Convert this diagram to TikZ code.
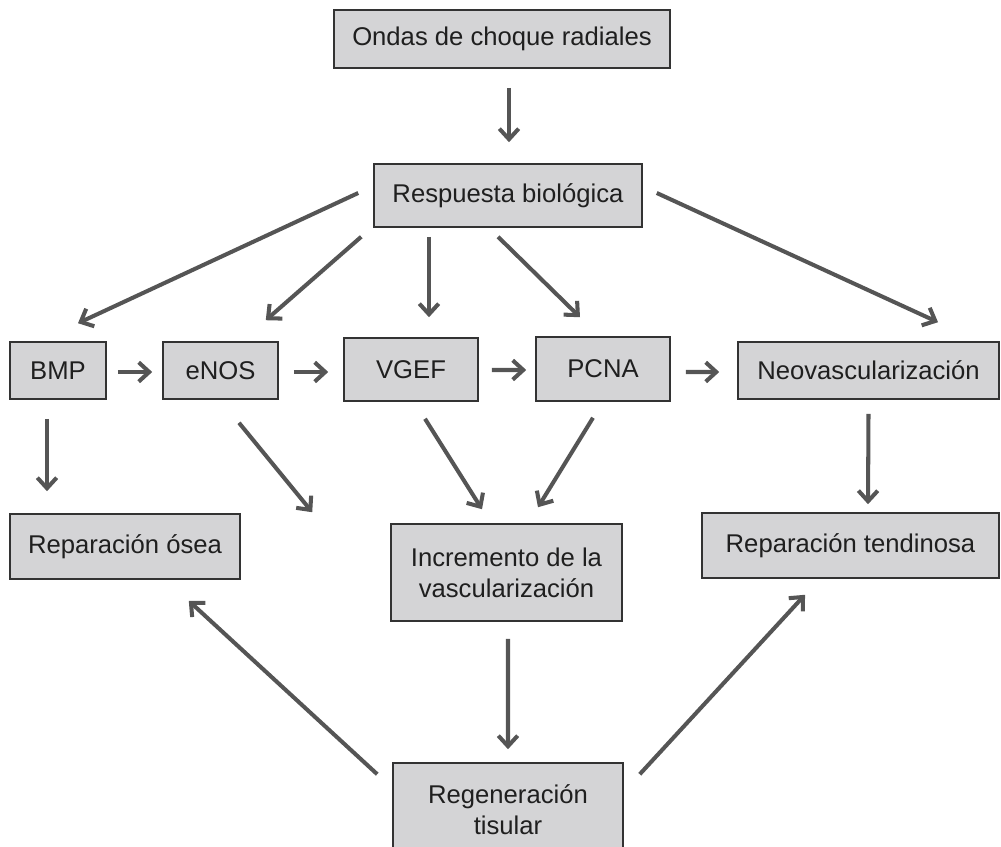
\documentclass[tikz,border=0pt]{standalone}
\usepackage{fontspec}
\setmainfont{Liberation Sans}
\usetikzlibrary{arrows.meta}
\definecolor{boxgray}{HTML}{D4D4D6}
\definecolor{edgegray}{HTML}{333333}
\definecolor{arrowgray}{HTML}{555555}

\begin{document}
\begin{tikzpicture}[x=0.02cm, y=-0.02cm,
        box/.style = {
            draw=edgegray,
            fill=boxgray,
            line width=0.9pt,
            inner sep=0pt,
            align=center,
            text=black!88,
            font=\fontsize{14.6}{17.6}\selectfont
        },
        arr/.style = {
            draw=arrowgray,
            line width=2.3pt,
            -{Straight Barb[length=6pt,width=11pt]}
        }]
        \useasboundingbox (0,0) rectangle (1001,847);

        \node[box, minimum width=6.72cm, minimum height=1.16cm] (ondas) at (502,39) {Ondas de choque radiales};
        \node[box, minimum width=5.36cm, minimum height=1.26cm] (resp) at (508,195.5) {Respuesta biológica};

        \node[box, minimum width=1.92cm, minimum height=1.14cm] (bmp) at (58,370.5) {BMP};
        \node[box, minimum width=2.3cm, minimum height=1.14cm] (enos) at (220.5,370.5) {eNOS};
        \node[box, minimum width=2.68cm, minimum height=1.26cm] (vgef) at (411,369.5) {VGEF};
        \node[box, minimum width=2.68cm, minimum height=1.28cm] (pcna) at (603,369) {PCNA};
        \node[box, minimum width=5.22cm, minimum height=1.14cm] (neo) at (868.5,370.5) {Neovascularización};

        \node[box, minimum width=4.6cm, minimum height=1.3cm] (osea) at (125,546.5) {Reparación ósea};
        \node[box, minimum width=4.62cm, minimum height=1.94cm] (incr) at (506.5,572.5) {Incremento de la\\vascularización};
        \node[box, minimum width=5.94cm, minimum height=1.3cm] (tend) at (850.5,545.5) {Reparación tendinosa};

        \node[box, minimum width=4.6cm, minimum height=1.88cm] (regen) at (508,810) {Regeneración\\tisular};

        % respuesta
        \draw[arr] ([shift={(7,19)}]ondas.south) -- ([shift={(1,-21)}]resp.north);
        \draw[arr] ([shift={(-15,-2.5)}]resp.west) -- ([shift={(20,-18)}]bmp.north);
        \draw[arr] ([shift={(-12,9)}]resp.south west) -- ([shift={(-13,-21)}]enos.north east);
        \draw[arr] ([shift={(-79,9)}]resp.south) -- ([shift={(18,-20)}]vgef.north);
        \draw[arr] ([shift={(-10,9)}]resp.south) -- ([shift={(-23,-19)}]pcna.north);
        \draw[arr] ([shift={(14,-2.5)}]resp.east) -- ([shift={(69.5,-19)}]neo.north);

        % cadena
        \draw[arr] ([shift={(11,1.5)}]bmp.east) -- ([shift={(-10,1.5)}]enos.west);
        \draw[arr] ([shift={(15,1.5)}]enos.east) -- ([shift={(-15,2.5)}]vgef.west);
        \draw[arr] ([shift={(13,0.5)}]vgef.east) -- ([shift={(-9,1)}]pcna.west);
        \draw[arr] ([shift={(15,3)}]pcna.east) -- ([shift={(-18,1.5)}]neo.west);

        % efectos
        \draw[arr] ([shift={(-11,19)}]bmp.south) -- ([shift={(-78,-22)}]osea.north);
        \draw[arr] ([shift={(18.5,23)}]enos.south) -- ([shift={(-78,-11)}]incr.north west);
        \draw[arr] ([shift={(14,17)}]vgef.south) -- ([shift={(-24.5,-14)}]incr.north);
        \draw[arr] ([shift={(-10,16)}]pcna.south) -- ([shift={(31.5,-16)}]incr.north);
        \draw[arr] ([shift={(0,14)}]neo.south) -- ([shift={(17.5,-8)}]tend.north);

        % regeneracion
        \draw[arr] ([shift={(1.5,17)}]incr.south) -- ([shift={(0,-13)}]regen.north);
        \draw[arr] ([shift={(-15,12)}]regen.north west) -- ([shift={(-52,21)}]osea.south east);
        \draw[arr] ([shift={(16,12)}]regen.north east) -- ([shift={(-45.5,16)}]tend.south);
    \end{tikzpicture}
\end{document}
